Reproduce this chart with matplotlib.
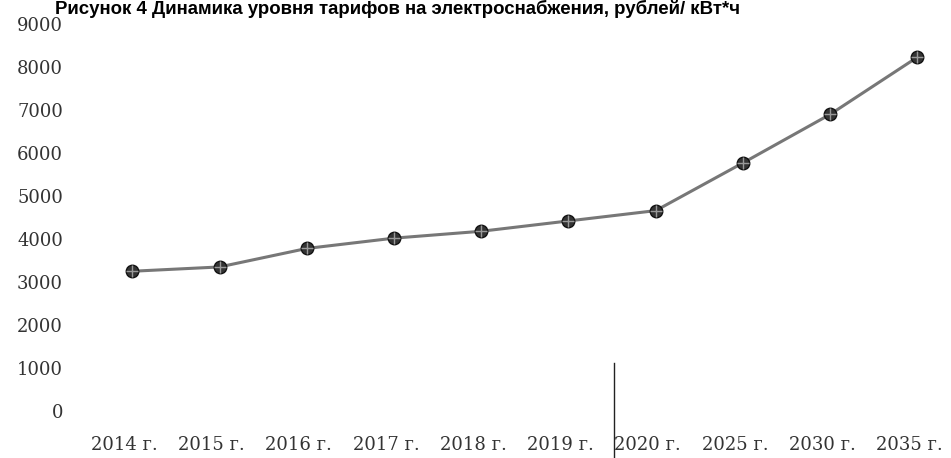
import matplotlib
matplotlib.use('Agg')
import matplotlib.pyplot as plt
import matplotlib.transforms as mtransforms

# Данные графика
годы = ['2014 г.', '2015 г.', '2016 г.', '2017 г.', '2018 г.', '2019 г.',
        '2020 г.', '2025 г.', '2030 г.', '2035 г.']
тарифы = [3250, 3350, 3780, 4020, 4180, 4420, 4660, 5770, 6900, 8230]
деления_y = [0, 1000, 2000, 3000, 4000, 5000, 6000, 7000, 8000, 9000]
заголовок = 'Рисунок 4 Динамика уровня тарифов на электроснабжения, рублей/ кВт*ч'

fig = plt.figure(figsize=(9.51, 4.58), dpi=100)
ax = fig.add_axes([93 / 951, 47 / 458, 855 / 951, 387 / 458])

x = list(range(len(годы)))
ax.plot(x, тарифы, color='#777777', linewidth=2.2, zorder=2)
ax.plot(x, тарифы, linestyle='none', marker='o', markersize=9,
        markerfacecolor='#333333', markeredgecolor='#111111', zorder=3)
ax.plot(x, тарифы, linestyle='none', marker='+', markersize=9,
        markeredgecolor='#999999', markeredgewidth=1, zorder=4)

ax.set_xlim(-0.45, 9.35)
ax.set_ylim(0, 9000)
ax.set_yticks(деления_y)
ax.set_yticklabels([str(v) for v in деления_y])
ax.set_xticks(x)
ax.set_xticklabels(годы)

for s in ax.spines.values():
    s.set_visible(False)
ax.tick_params(axis='y', length=0, pad=21.6, labelsize=13, labelcolor='#333333')
ax.tick_params(axis='x', length=0, pad=18, labelsize=13, labelcolor='#333333')
for lbl in ax.get_xticklabels() + ax.get_yticklabels():
    lbl.set_family('DejaVu Serif')

# Небольшой сдвиг подписей оси X влево
сдвиг = mtransforms.ScaledTranslation(-8 / 100, 0, fig.dpi_scale_trans)
for lbl in ax.get_xticklabels():
    lbl.set_transform(lbl.get_transform() + сдвиг)

# Разделитель между фактом и прогнозом
разделитель = годы.index('2020 г.') - 0.48
trans = mtransforms.blended_transform_factory(ax.transData, ax.transAxes)
ax.plot([разделитель, разделитель], [0.124, -0.13], transform=trans,
        color='#222222', linewidth=1, clip_on=False)

fig.text(55 / 951, 1.0, заголовок, fontsize=13.4, fontweight='bold',
         family='Liberation Sans', ha='left', va='top')

plt.savefig('out.png', dpi=100)
